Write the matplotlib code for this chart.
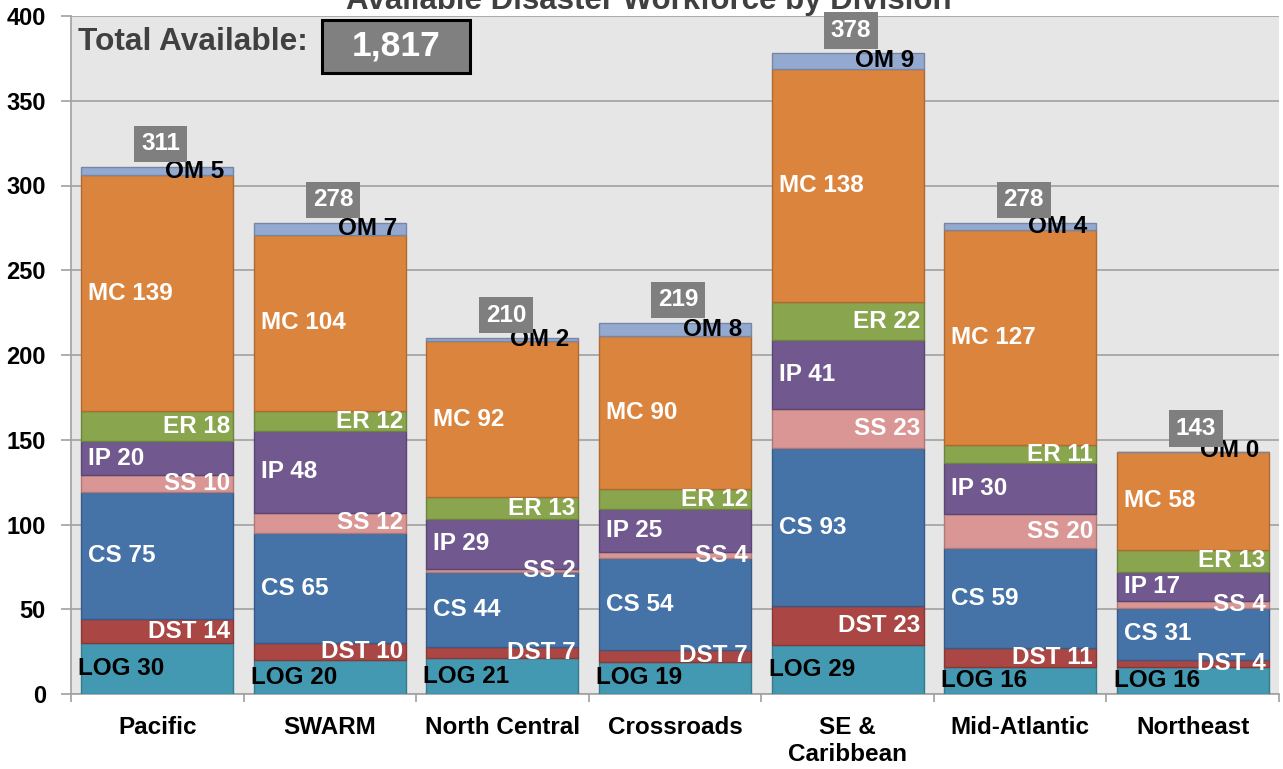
import matplotlib
matplotlib.use("Agg")
import matplotlib.pyplot as plt
from matplotlib.patches import Rectangle
import matplotlib.colors as mcolors
import numpy as np

plt.rcParams['font.family'] = ['Liberation Sans', 'DejaVu Sans']
plt.rcParams['font.weight'] = 'bold'

divisions = ["Pacific", "SWARM", "North Central", "Crossroads", "SE &\nCaribbean", "Mid-Atlantic", "Northeast"]
LOG = [30, 20, 21, 19, 29, 16, 16]
DST = [14, 10, 7, 7, 23, 11, 4]
CS = [75, 65, 44, 54, 93, 59, 31]
SS = [10, 12, 2, 4, 23, 20, 4]
IP = [20, 48, 29, 25, 41, 30, 17]
ER = [18, 12, 13, 12, 22, 11, 13]
MC = [139, 104, 92, 90, 138, 127, 58]
OM = [5, 7, 2, 8, 9, 4, 0]
series_names = ["LOG", "DST", "CS", "SS", "IP", "ER", "MC", "OM"]
series_values = [LOG, DST, CS, SS, IP, ER, MC, OM]
total_available = "1,817"
title = "Available Disaster Workforce by Division"

colors = {"LOG": "#4399B1", "DST": "#AA4643", "CS": "#4572A7", "SS": "#D99694",
          "IP": "#71588F", "ER": "#89A54E", "MC": "#DB843D", "OM": "#93A9CF"}
# label style: (color, alignment)
label_style = {"LOG": ("black", "logleft"), "DST": ("white", "right"), "CS": ("white", "left"),
               "SS": ("white", "right"), "IP": ("white", "left"), "ER": ("white", "right"),
               "MC": ("white", "left"), "OM": ("black", "omright")}

W, H = 1283, 769
fig = plt.figure(figsize=(W / 100, H / 100), dpi=100)
ax_left, ax_right, ax_top, ax_bot = 71, 1279, 16, 694
ax = fig.add_axes([ax_left / W, 1 - ax_bot / H, (ax_right - ax_left) / W, (ax_bot - ax_top) / H])
ax.set_facecolor("#E6E6E6")

n = len(divisions)
x = np.arange(n)
bw = 0.88
ppu = (ax_right - ax_left) / n  # pixels per category unit

def darker(c, f=0.8):
    r, g, b = mcolors.to_rgb(c)
    return (r * f, g * f, b * f)

LFS = 17.5
bottom = np.zeros(n)
for name, vals in zip(series_names, series_values):
    vals = np.array(vals, dtype=float)
    ax.bar(x, vals, bw, bottom=bottom, color=colors[name], edgecolor=darker(colors[name]),
           linewidth=1.0, zorder=3)
    col, al = label_style[name]
    for i in range(n):
        yc = bottom[i] + vals[i] / 2
        left = x[i] - bw / 2
        right = x[i] + bw / 2
        if al == "left":
            xp, ha = left + 7 / ppu, "left"
        elif al == "logleft":
            xp, ha = left - 3 / ppu, "left"
        elif al == "right":
            xp, ha = right - 3 / ppu, "right"
        else:
            xp, ha = right - 9 / ppu, "right"
        if name == "OM" and vals[i] == 0:
            yc = bottom[i] + 0.5
        ax.text(xp, yc, f"{name} {int(vals[i])}", ha=ha, va="center", color=col,
                fontsize=LFS, fontweight="bold", zorder=5)
    bottom = bottom + vals

totals = bottom
for i in range(n):
    ax.text(x[i] + 0.02, totals[i] + 13.5, f"{int(totals[i])}", ha="center", va="center",
            color="white", fontsize=LFS, fontweight="bold", zorder=6,
            bbox=dict(boxstyle="square,pad=0.28", facecolor="#7F7F7F", edgecolor="none"))

ax.set_xlim(-0.5, n - 0.5)
ax.set_ylim(0, 400)
ax.set_yticks(np.arange(0, 401, 50))
ax.yaxis.grid(True, color="#A6A6A6", linewidth=1.3, zorder=0)
ax.set_axisbelow(True)
ax.set_xticks(x)
ax.set_xticklabels(divisions, fontsize=17.5, fontweight="bold", linespacing=1.2)
ax.set_xticks(np.arange(-0.5, n, 1.0), minor=True)
ax.tick_params(axis="x", which="major", length=0, pad=16)
ax.tick_params(axis="x", which="minor", length=6, color="#A0A0A0", width=1.2)
ax.tick_params(axis="y", length=7, color="#A0A0A0", width=1.2, labelsize=17, pad=11)
for lbl in ax.get_yticklabels():
    lbl.set_fontweight("bold")
for s in ["top", "right"]:
    ax.spines[s].set_visible(False)
for s in ["left", "bottom"]:
    ax.spines[s].set_color("#A0A0A0")
    ax.spines[s].set_linewidth(1.2)

# title (partly cut off at the top like the reference)
fig.text(649 / W, 1 - 9.5 / H, title, ha="center", va="baseline", fontsize=22.5,
         fontweight="bold", color="#404040")

# Total available annotation
fig.text(78 / W, 1 - 42 / H, "Total Available:", ha="left", va="center", fontsize=22.8,
         fontweight="bold", color="#404040", zorder=10)
fig.patches.append(Rectangle((322 / W, 1 - 73 / H), (470 - 322) / W, (73 - 20) / H,
                             transform=fig.transFigure, facecolor="#808080",
                             edgecolor="black", linewidth=2.2, zorder=9))
fig.text(396 / W, 1 - 46 / H, total_available, ha="center", va="center", fontsize=25.5,
         fontweight="bold", color="white", zorder=10)

fig.savefig("out.png", dpi=100)
